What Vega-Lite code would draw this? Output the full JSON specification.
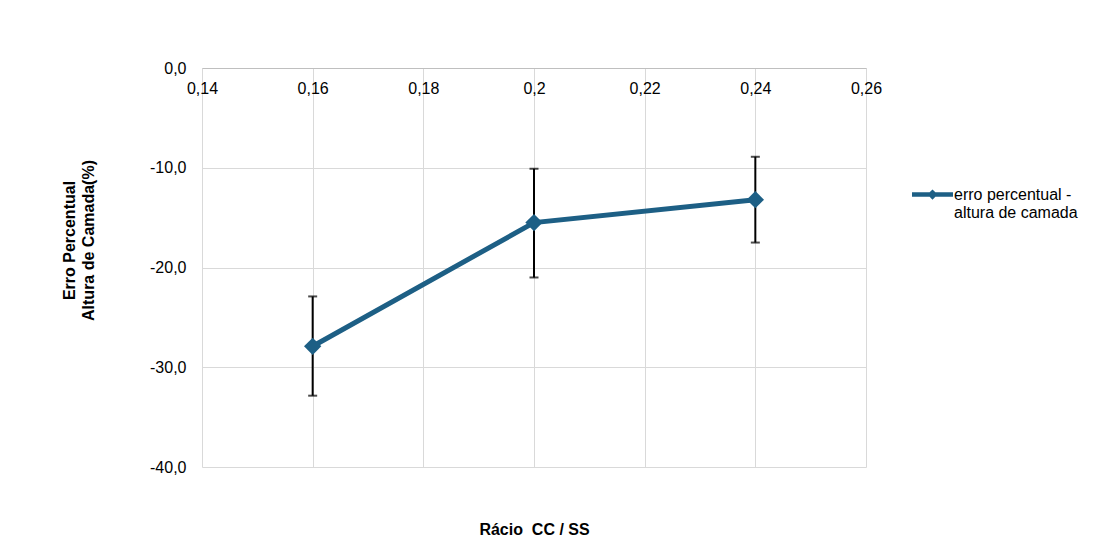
{
  "$schema": "https://vega.github.io/schema/vega-lite/v6.json",
  "width": 664,
  "height": 399,
  "autosize": {"type": "none"},
  "padding": {"left": 202, "top": 68, "right": 236, "bottom": 91},
  "background": "white",
  "config": {
    "font": "Liberation Sans",
    "view": {"stroke": null},
    "axis": {
      "labelFont": "Liberation Sans",
      "labelFontSize": 16,
      "labelColor": "#000000",
      "labelFlush": false,
      "titleFont": "Liberation Sans",
      "titleFontSize": 16,
      "titleFontWeight": "bold",
      "titleColor": "#000000",
      "gridColor": "#d9d9d9",
      "gridWidth": 1,
      "ticks": false
    },
    "legend": {
      "labelFont": "Liberation Sans",
      "labelFontSize": 16,
      "labelColor": "#000000"
    }
  },
  "data": {
    "values": [
      {"racio": 0.16, "erro": -27.9, "lo": -32.85, "hi": -22.9},
      {"racio": 0.2, "erro": -15.5, "lo": -21.0, "hi": -10.1},
      {"racio": 0.24, "erro": -13.2, "lo": -17.5, "hi": -8.9}
    ]
  },
  "layer": [
    {
      "mark": {"type": "rule", "color": "#000000", "strokeWidth": 2},
      "encoding": {
        "x": {
          "field": "racio",
          "type": "quantitative",
          "scale": {"domain": [0.14, 0.26], "nice": false, "zero": false},
          "axis": {
            "orient": "bottom",
            "offset": -399,
            "values": [0.14, 0.16, 0.18, 0.2, 0.22, 0.24, 0.26],
            "labelExpr": "replace(format(datum.value, '.2~f'), '.', ',')",
            "labelPadding": 12,
            "domainColor": "#bfbfbf",
            "domainWidth": 1,
            "title": "Rácio\u00a0 CC / SS",
            "titleY": 453
          }
        },
        "y": {
          "field": "lo",
          "type": "quantitative",
          "scale": {"domain": [-40, 0], "nice": false},
          "axis": {
            "values": [0, -10, -20, -30, -40],
            "labelExpr": "(datum.value < 0 ? '-' : '') + replace(format(abs(datum.value), '.1f'), '.', ',')",
            "labelPadding": 16,
            "domain": false,
            "title": ["Erro Percentual", "Altura de Camada(%)"],
            "titleLineHeight": 19,
            "titleX": -125,
            "titleY": 172
          }
        },
        "y2": {"field": "hi"}
      }
    },
    {
      "mark": {"type": "tick", "color": "#000000", "thickness": 2, "size": 9, "orient": "horizontal"},
      "encoding": {
        "x": {"field": "racio", "type": "quantitative"},
        "y": {"field": "lo", "type": "quantitative"}
      }
    },
    {
      "mark": {"type": "tick", "color": "#000000", "thickness": 2, "size": 9, "orient": "horizontal"},
      "encoding": {
        "x": {"field": "racio", "type": "quantitative"},
        "y": {"field": "hi", "type": "quantitative"}
      }
    },
    {
      "mark": {"type": "line", "color": "#1d5f85", "strokeWidth": 5},
      "encoding": {
        "x": {"field": "racio", "type": "quantitative"},
        "y": {"field": "erro", "type": "quantitative"}
      }
    },
    {
      "mark": {"type": "point", "shape": "diamond", "filled": true, "size": 300, "opacity": 1},
      "encoding": {
        "x": {"field": "racio", "type": "quantitative"},
        "y": {"field": "erro", "type": "quantitative"},
        "color": {
          "datum": "erro percentual - altura de camada",
          "type": "nominal",
          "scale": {"range": ["#1d5f85"]},
          "legend": {
            "title": null,
            "orient": "none",
            "legendX": 710,
            "legendY": 106,
            "symbolType": "M-1,-0.11L-0.14,-0.11L0,-0.25L0.14,-0.11L1,-0.11L1,0.11L0.14,0.11L0,0.25L-0.14,0.11L-1,0.11Z",
            "symbolSize": 1681,
            "symbolStrokeWidth": 0,
            "symbolOpacity": 1,
            "labelOffset": 1,
            "labelLineHeight": 18,
            "labelLimit": 300,
            "labelExpr": "['erro percentual -', 'altura de camada']"
          }
        }
      }
    }
  ]
}
